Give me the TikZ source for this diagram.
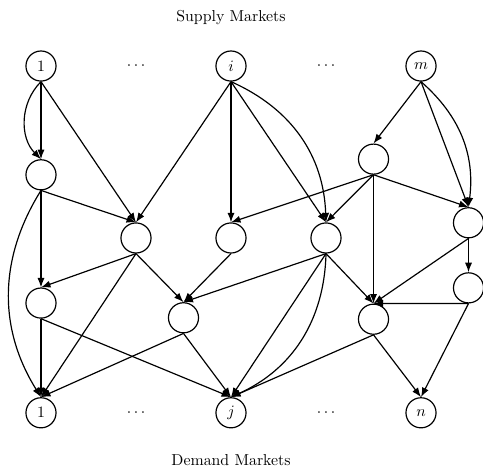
\documentclass[tikz,border=0pt]{standalone}
\usetikzlibrary{arrows.meta}
\begin{document}
\begin{tikzpicture}[x=30pt,y=30pt,>={Latex[length=6pt,width=4.5pt]},line width=0.75pt,
    market/.style={circle,draw,minimum size=19pt,inner sep=0pt}]
      \useasboundingbox (-0.863,1.39) rectangle (9.305,-8.48);
      \draw
        (4,1.03) node (supply){Supply Markets}
        (0,0) node[market] (s1){$1$}
        (2,0) node (sdots1){$\cdots$}
        (4,0) node[market] (si){$i$}
        (6,0) node (sdots2){$\cdots$}
        (8,0) node[market] (sm){$m$}
        (0,-2.29) node[market] (t1){}
        (2,-3.62) node[market] (t2){}
        (4,-3.62) node[market] (t3){}
        (6,-3.62) node[market] (t4){}
        (7,-1.96) node[market] (t5){}
        (9,-3.30) node[market] (t6){}
        (0,-4.99) node[market] (t7){}
        (3,-5.30) node[market] (t8){}
        (7,-5.33) node[market] (t9){}
        (9,-4.67) node[market] (t10){}
        (0,-7.3) node[market] (d1){$1$}
        (2,-7.3) node (ddots1){$\cdots$}
        (4,-7.3) node[market] (dj){$j$}
        (6,-7.3) node (ddots2){$\cdots$}
        (8,-7.3) node[market] (dn){$n$}
        (4,-8.3) node (demand){Demand Markets};
      \begin{scope}[->]
        \draw (s1.south) to (t1.north);
        \draw (s1.south) to[bend right=45] (t1.north);
        \draw (s1.south) to (t2.north);
        \draw (si.south) to (t2.north);
        \draw (si.south) to (t3.north);
        \draw (si.south) to (t4.north);
        \draw (si.south) to[bend left=32] (t4.north);
        \draw (sm.south) to (t5.north);
        \draw (sm.south) to (t6.north);
        \draw (sm.south) to[bend left=28] (t6.north);
        \draw (t1.south) to (t2.north);
        \draw (t1.south) to (t7.north);
        \draw (t1.south) to[bend right=32] (d1.north);
        \draw (t5.south) to (t3.north);
        \draw (t5.south) to (t4.north);
        \draw (t5.south) to (t6.north);
        \draw (t5.south) to (t9.north);
        \draw (t2.south) to (t7.north);
        \draw (t2.south) to (d1.north);
        \draw (t2.south) to (t8.north);
        \draw (t3.south) to (t8.north);
        \draw (t4.south) to (t8.north);
        \draw (t4.south) to (dj.north);
        \draw (t4.south) to[bend left=32] (dj.north);
        \draw (t4.south) to (t9.north);
        \draw (t6.south) to (t9.north);
        \draw (t6.south) to (t10.north);
        \draw (t10.south) to (t9.north);
        \draw (t7.south) to (d1.north);
        \draw (t7.south) to (dj.north);
        \draw (t8.south) to (d1.north);
        \draw (t8.south) to (dj.north);
        \draw (t9.south) to (dj.north);
        \draw (t9.south) to (dn.north);
        \draw (t10.south) to (dn.north);
      \end{scope}
    \end{tikzpicture}
\end{document}
